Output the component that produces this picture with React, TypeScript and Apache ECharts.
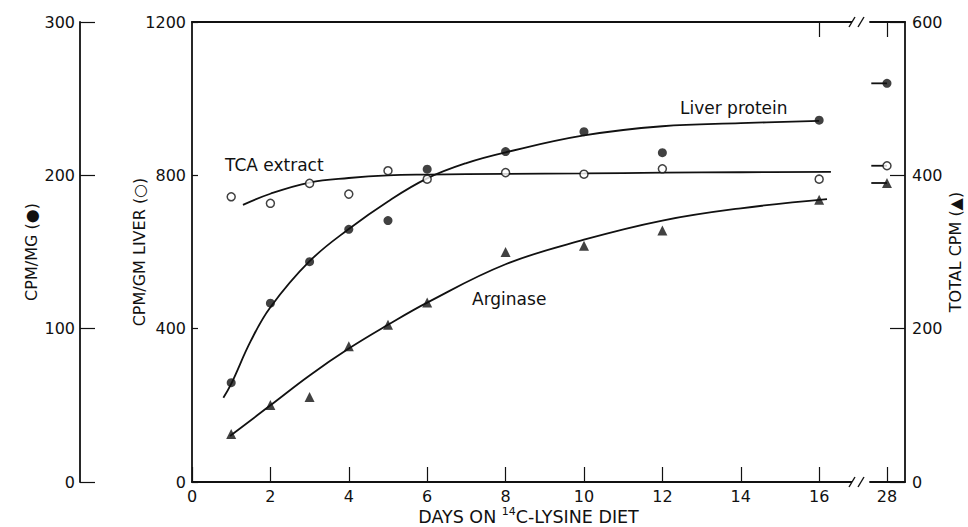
import React, { useEffect, useRef } from "react";
import * as echarts from "echarts";

// ---- data ----
const days = [1, 2, 3, 4, 5, 6, 8, 10, 12, 16, 28];
const liverProteinCpmMg = [64.8, 116.6, 143.7, 164.8, 170.5, 204, 215.5, 228.5, 214.8, 236, 260];
const tcaCpmGmLiver = [744, 727, 779, 751, 812, 790, 807, 803, 817, 790, 825];
const arginaseTotalCpm = [62.6, 100.4, 111, 177, 205, 234, 300, 308, 328, 368, 390];

// fitted curves
const liverCurveDays = [0.8, 1, 1.5, 2, 3, 4, 5, 6, 7, 8, 10, 12, 14, 16];
const liverCurveVals = [55, 64, 92, 114, 144, 165, 183, 198, 208, 215, 226, 232, 234, 235.5];
const tcaCurveDays = [1.3, 2, 3, 4, 5, 6, 8, 10, 12, 14, 16.3];
const tcaCurveVals = [723, 752, 781, 793, 800, 802, 804, 805, 807, 808, 809];
const argCurveDays = [0.97, 2, 3, 4, 5, 6, 8, 10, 12, 14, 16.2];
const argCurveVals = [60, 100, 139, 174, 205, 234, 284, 316, 341, 357, 369];

// short asymptote stubs at day 28
const stubDays = [27.6, 28];

const xTickValues = [0, 2, 4, 6, 8, 10, 12, 14, 16, 28];
const xTopTickValues = [16, 28];

const FONT = "DejaVu Sans";
const INK = "#111";

const pairs = (xs: number[], ys: number[]) => xs.map((x, i) => [x, ys[i]]);
const lastOf = (a: number[]) => a[a.length - 1];

export default function App() {
  const ref = useRef<HTMLDivElement>(null);
  useEffect(() => {
    if (!ref.current) return;
    const chart = echarts.init(ref.current, undefined, { renderer: "svg" });
    const makeBreak = () => [{ start: 16.85, end: 27.55, gap: 0.43 }];
    const lineStyle = { color: INK, width: 1.8 };
    const textBase = { fontFamily: FONT, fontSize: 16, color: INK };
    const plain = (v: number) => String(v);
    const option: any = {
      animation: false,
      backgroundColor: "#fff",
      grid: { left: 192, right: 63, top: 22, bottom: 45, containLabel: false, outerBoundsMode: "none" },
      xAxis: [
        {
          type: "value",
          position: "bottom",
          min: 0,
          max: 28.46,
          breaks: makeBreak(),
          breakArea: { show: false },
          splitLine: { show: false },
          axisLine: { onZero: false, lineStyle: { color: INK, width: 1.8 } },
          axisTick: { inside: true, length: 15, customValues: xTickValues, lineStyle: { color: INK, width: 1.2 } },
          axisLabel: { customValues: xTickValues, margin: 6, formatter: plain, ...textBase },
          name: "{t|DAYS ON }{s|14}{t|C-LYSINE DIET}",
          nameLocation: "middle",
          nameGap: 24,
          nameMoveOverlap: false,
          nameTextStyle: {
            padding: [0, 40, 0, 0],
            rich: {
              t: { fontFamily: FONT, fontSize: 17.5, color: INK, lineHeight: 20, verticalAlign: "bottom" },
              s: { fontFamily: FONT, fontSize: 11, color: INK, lineHeight: 20, verticalAlign: "top" },
            },
          },
        },
        {
          type: "value",
          position: "top",
          min: 0,
          max: 28.46,
          breaks: makeBreak(),
          breakArea: { show: false },
          splitLine: { show: false },
          axisLine: { onZero: false, lineStyle: { color: INK, width: 1.8 } },
          axisTick: { inside: true, length: 15, customValues: xTopTickValues, lineStyle: { color: INK, width: 1.2 } },
          axisLabel: { show: false },
        },
      ],
      yAxis: [
        {
          type: "value",
          position: "left",
          min: 0,
          max: 1200,
          interval: 400,
          splitLine: { show: false },
          axisLine: { show: true, onZero: false, lineStyle: { color: INK, width: 1.8 } },
          axisTick: { show: true, inside: true, length: 6, lineStyle: { color: INK, width: 1.2 } },
          axisLabel: { margin: 6, formatter: plain, ...textBase },
          name: "CPM/GM LIVER (○)",
          nameLocation: "middle",
          nameRotate: 90,
          nameGap: 45,
          nameMoveOverlap: false,
          nameTextStyle: { ...textBase, fontSize: 16 },
        },
        {
          type: "value",
          position: "left",
          offset: 112,
          min: 0,
          max: 300,
          interval: 100,
          splitLine: { show: false },
          axisLine: { show: true, onZero: false, lineStyle: { color: INK, width: 1.8 } },
          axisTick: { show: true, inside: true, length: 15, lineStyle: { color: INK, width: 1.2 } },
          axisLabel: { margin: 5, formatter: plain, ...textBase },
          name: "CPM/MG (●)",
          nameLocation: "middle",
          nameRotate: 90,
          nameGap: 41,
          nameMoveOverlap: false,
          nameTextStyle: { ...textBase, fontSize: 16 },
        },
        {
          type: "value",
          position: "right",
          min: 0,
          max: 600,
          interval: 200,
          splitLine: { show: false },
          axisLine: { show: true, onZero: false, lineStyle: { color: INK, width: 1.8 } },
          axisTick: { show: true, inside: true, length: 15, lineStyle: { color: INK, width: 1.2 } },
          axisLabel: { margin: 7, formatter: plain, ...textBase },
          name: "TOTAL CPM (▲)",
          nameLocation: "middle",
          nameRotate: 90,
          nameGap: 42,
          nameMoveOverlap: false,
          nameTextStyle: { ...textBase, fontSize: 16 },
        },
      ],
      series: [
        { name: "Liver protein curve", type: "line", yAxisIndex: 1, smooth: 0.4, symbol: "none", lineStyle, data: pairs(liverCurveDays, liverCurveVals) },
        { name: "TCA extract curve", type: "line", yAxisIndex: 0, smooth: 0.4, symbol: "none", lineStyle, data: pairs(tcaCurveDays, tcaCurveVals) },
        { name: "Arginase curve", type: "line", yAxisIndex: 2, smooth: 0.4, symbol: "none", lineStyle, data: pairs(argCurveDays, argCurveVals) },
        { name: "Liver protein stub", type: "line", yAxisIndex: 1, symbol: "none", lineStyle, data: stubDays.map((d) => [d, lastOf(liverProteinCpmMg)]) },
        { name: "TCA stub", type: "line", yAxisIndex: 0, symbol: "none", lineStyle, data: stubDays.map((d) => [d, lastOf(tcaCpmGmLiver)]) },
        { name: "Arginase stub", type: "line", yAxisIndex: 2, symbol: "none", lineStyle, data: stubDays.map((d) => [d, lastOf(arginaseTotalCpm)]) },
        { name: "Liver protein", type: "scatter", yAxisIndex: 1, symbol: "circle", symbolSize: 9, itemStyle: { color: INK }, data: pairs(days, liverProteinCpmMg), z: 5 },
        { name: "TCA extract", type: "scatter", yAxisIndex: 0, symbol: "circle", symbolSize: 8, itemStyle: { color: "#fff", borderColor: INK, borderWidth: 1.5 }, data: pairs(days, tcaCpmGmLiver), z: 5 },
        { name: "Arginase", type: "scatter", yAxisIndex: 2, symbol: "triangle", symbolSize: 10, itemStyle: { color: INK }, data: pairs(days, arginaseTotalCpm), z: 5 },
      ],
      graphic: [
        { type: "rect", shape: { x: 852, y: 478, width: 11, height: 8 }, style: { fill: "#fff" }, z: 50 },
        { type: "rect", shape: { x: 852, y: 18, width: 11, height: 8 }, style: { fill: "#fff" }, z: 50 },
        { type: "line", shape: { x1: 849, y1: 487, x2: 855, y2: 477 }, style: { stroke: INK, lineWidth: 1.4 }, z: 51 },
        { type: "line", shape: { x1: 858, y1: 487, x2: 864, y2: 477 }, style: { stroke: INK, lineWidth: 1.4 }, z: 51 },
        { type: "line", shape: { x1: 849, y1: 27, x2: 855, y2: 17 }, style: { stroke: INK, lineWidth: 1.4 }, z: 51 },
        { type: "line", shape: { x1: 858, y1: 27, x2: 864, y2: 17 }, style: { stroke: INK, lineWidth: 1.4 }, z: 51 },
        { type: "text", x: 225, y: 165, style: { text: "TCA extract", fill: INK, font: `17px "${FONT}"`, verticalAlign: "middle" } },
        { type: "text", x: 680, y: 108, style: { text: "Liver protein", fill: INK, font: `17px "${FONT}"`, verticalAlign: "middle" } },
        { type: "text", x: 472, y: 299, style: { text: "Arginase", fill: INK, font: `17px "${FONT}"`, verticalAlign: "middle" } },
      ],
    };
    chart.setOption(option);
    return () => chart.dispose();
  }, []);
  return <div ref={ref} style={{ position: "fixed", left: 0, top: 0, width: 968, height: 527, background: "#fff" }} />;
}
